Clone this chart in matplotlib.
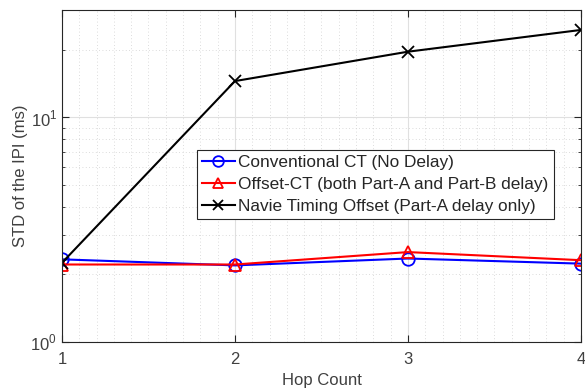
import matplotlib
matplotlib.use("Agg")
import matplotlib.pyplot as plt
from matplotlib.ticker import MultipleLocator, LogLocator, NullFormatter, FixedLocator

plt.rcParams['font.family'] = ['Liberation Sans', 'DejaVu Sans']
plt.rcParams['mathtext.fontset'] = 'custom'
plt.rcParams['mathtext.rm'] = 'Liberation Sans'

hops = [1, 2, 3, 4]
conventional = [2.33, 2.19, 2.35, 2.23]
offset_ct = [2.21, 2.21, 2.51, 2.31]
naive = [2.25, 14.5, 19.6, 24.5]
labels = ['Conventional CT (No Delay)',
          'Offset-CT (both Part-A and Part-B delay)',
          'Navie Timing Offset (Part-A delay only)']

fig = plt.figure(figsize=(5.85, 3.92), dpi=100)
ax = fig.add_axes([0.106, 0.128, 0.887, 0.846])

ax.plot(hops, conventional, color='#0000ff', marker='o', markersize=9,
        markerfacecolor='none', markeredgewidth=1.3, linewidth=1.5, label=labels[0])
ax.plot(hops, offset_ct, color='#ff0000', marker='^', markersize=9,
        markerfacecolor='none', markeredgewidth=1.3, linewidth=1.5, label=labels[1])
ax.plot(hops, naive, color='black', marker='x', markersize=9,
        markeredgewidth=1.3, linewidth=1.5, label=labels[2])

ax.set_yscale('log')
ax.set_xlim(1, 4)
ax.set_ylim(1, 30)
ax.set_xticks(hops)
ax.xaxis.set_minor_locator(MultipleLocator(0.1))
ax.yaxis.set_major_locator(FixedLocator([1, 10]))
ax.set_yticklabels([r'$10^0$', r'$10^1$'])
ax.yaxis.set_minor_locator(LogLocator(base=10, subs=range(2, 10)))
ax.yaxis.set_minor_formatter(NullFormatter())

txt = '#404040'
ax.tick_params(which='both', direction='in', colors='#262626', labelcolor=txt,
               labelsize=12, top=True, right=True)
ax.tick_params(which='major', length=5)
ax.tick_params(which='minor', length=2.5)
ax.tick_params(axis='x', which='minor', length=0)
ax.tick_params(axis='x', pad=7)

ax.grid(True, which='major', color='#e0e0e0', linewidth=0.8, linestyle='-')
ax.grid(True, which='minor', color='#d0d0d0', linewidth=0.6, linestyle=(0, (1, 3)))
ax.set_axisbelow(True)
for s in ax.spines.values():
    s.set_color('#262626')
    s.set_linewidth(0.8)

ax.set_xlabel('Hop Count', fontsize=12, color=txt, labelpad=5)
ax.set_ylabel('STD of the IPI (ms)', fontsize=12, color=txt, labelpad=2)

leg = ax.legend(loc='upper left', bbox_to_anchor=(0.26, 0.578), fontsize=12.4,
                frameon=True, fancybox=False, edgecolor='#262626', framealpha=1,
                handlelength=1.9, handletextpad=0.2, borderpad=0.3, labelspacing=0.38,
                borderaxespad=0, markerscale=0.85)
leg.get_frame().set_linewidth(0.8)
for t in leg.get_texts():
    t.set_color('#262626')

fig.savefig('out.png', dpi=100)
